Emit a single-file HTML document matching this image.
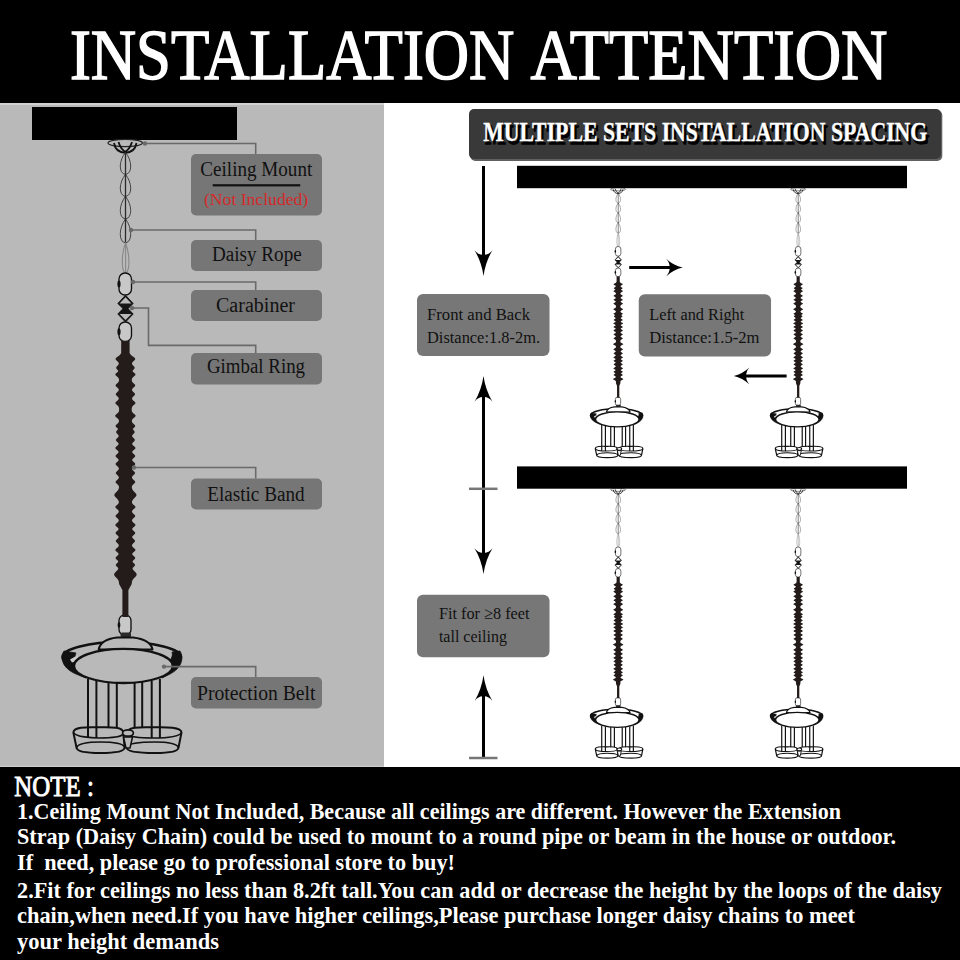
<!DOCTYPE html>
<html><head><meta charset="utf-8">
<style>
html,body{margin:0;padding:0;width:960px;height:960px;overflow:hidden;background:#fff;}
svg{display:block;}
text{font-family:"Liberation Serif",serif;}
</style></head>
<body>
<svg width="960" height="960" viewBox="0 0 960 960">
<defs>
<g id="lamp">
  <!-- rosette -->
  <ellipse cx="125.2" cy="143" rx="17.2" ry="3.6" fill="none" stroke="#222" stroke-width="1.2"/>
  <g fill="none" stroke="#111" stroke-width="1.8">
    <path d="M114,143 C115,149 119,152.5 125.3,152.8 C131.5,152.5 135.5,149 136.5,143"/>
    <path d="M118.5,142 C120,147 123,151 126.5,152.5 M132,142 C130.5,147 127.5,151 124,152.5"/>
  </g>
  <!-- chain loops -->
  <path fill="none" stroke="#444" stroke-width="1.0" d="M125.5,152.5 C132.1,160.2 132.8,173.4 125.5,174.5 C118.2,173.4 118.9,160.2 125.5,152.5Z M125.5,174.5 C132.1,182.2 132.8,195.4 125.5,196.5 C118.2,195.4 118.9,182.2 125.5,174.5Z M125.5,196.5 C132.1,204.4 132.8,217.9 125.5,219 C118.2,217.9 118.9,204.4 125.5,196.5Z M125.5,219 C132.1,227.4 132.8,241.8 125.5,243 C118.2,241.8 118.9,227.4 125.5,219Z"/>
  <path fill="none" stroke="#2a2a2a" stroke-width="1.3" d="M125.5,152.5 L125.5,243"/>
  <g fill="none" stroke="#888" stroke-width="1.1">
    <path d="M125.6,243 C129.8,253.5 130.2,271.5 125.6,273 C121.0,271.5 121.4,253.5 125.6,243Z"/>
    <path d="M125.6,244 L125.6,272"/>
  </g>
  <!-- carabiners -->
  <g stroke="#111" stroke-width="1.35" style="fill:var(--bg2)">
    <rect x="119" y="273" width="12.5" height="22" rx="6"/>
    <rect x="119" y="322" width="12.5" height="19.5" rx="6"/>
    <rect x="119" y="615" width="12" height="20" rx="5.5"/>
  </g>
  <g fill="#111">
    <ellipse cx="119" cy="284" rx="1.6" ry="3.5"/>
    <ellipse cx="119" cy="331.7" rx="1.6" ry="3.5"/>
    <ellipse cx="119" cy="625" rx="1.4" ry="3"/>
  </g>
  <!-- gimbal -->
  <path d="M125.5,295.2 L133.2,303.5 L125.5,311 L117.8,303.5 Z M125.5,306 L133.2,314 L125.5,322 L117.8,314 Z" fill="#161616" stroke="#111" stroke-width="0.9" stroke-linejoin="round"/>
  <path d="M125.5,297.3 L131.4,303.6 L119.6,303.6 Z M119.6,313.9 L131.4,313.9 L125.5,320.1 Z" style="fill:var(--bg)"/>
  <!-- elastic -->
  <path fill="#241b1b" style="opacity:var(--ob)" d="M121.2 341L121.2 342L121.2 343L121.2 344L121.2 345L121.2 346L121.2 347L121.2 348L121.2 349L121.2 350L121.2 351L121.2 352L121.2 353L120.6 354L119.8 355L118.7 356L117.1 357L116.0 358L115.5 359L116.0 360L117.1 361L118.1 362L118.8 363L118.7 364L118.2 365L117.2 366L116.4 367L116.1 368L116.7 369L117.6 370L118.4 371L117.6 372L116.4 373L115.4 374L115.4 375L116.4 376L117.6 377L118.5 378L118.9 379L119.1 380L118.9 381L118.4 382L117.6 383L116.4 384L115.6 385L115.7 386L116.6 387L117.8 388L118.6 389L118.8 390L118.4 391L117.4 392L116.4 393L115.7 394L116.0 395L117.0 396L118.0 397L118.7 398L118.7 399L118.1 400L117.0 401L115.8 402L115.3 403L115.8 404L117.0 405L118.1 406L118.7 407L119.0 408L119.1 409L119.1 410L119.0 411L118.6 412L117.8 413L116.6 414L115.5 415L115.1 416L115.9 417L117.1 418L118.2 419L118.8 420L119.0 421L118.8 422L118.1 423L117.1 424L116.0 425L115.5 426L116.0 427L117.1 428L118.1 429L117.4 430L116.5 431L116.1 432L116.5 433L117.4 434L118.3 435L118.8 436L118.3 437L117.3 438L116.3 439L115.9 440L116.3 441L117.3 442L118.3 443L118.7 444L118.1 445L117.0 446L115.8 447L115.3 448L115.8 449L117.0 450L118.1 451L118.7 452L118.1 453L117.1 454L116.0 455L115.5 456L116.0 457L117.1 458L118.1 459L118.8 460L118.1 461L117.1 462L116.0 463L115.5 464L116.0 465L117.1 466L118.1 467L118.8 468L118.8 469L118.2 470L117.2 471L116.2 472L115.7 473L116.2 474L117.2 475L118.2 476L118.8 477L118.8 478L118.1 479L117.1 480L116.0 481L115.5 482L116.0 483L117.1 484L118.1 485L118.8 486L119.0 487L118.9 488L118.6 489L118.1 490L117.3 491L116.4 492L115.4 493L114.6 494L114.3 495L114.6 496L115.4 497L116.4 498L117.3 499L118.1 500L118.6 501L118.9 502L118.7 503L118.1 504L117.0 505L115.8 506L115.3 507L115.8 508L117.0 509L118.1 510L118.7 511L118.8 512L118.1 513L117.1 514L116.0 515L115.5 516L116.0 517L117.1 518L118.1 519L118.8 520L118.7 521L118.1 522L117.0 523L115.8 524L115.3 525L115.8 526L117.0 527L118.1 528L118.7 529L118.1 530L117.1 531L116.0 532L115.5 533L116.0 534L117.1 535L118.1 536L118.8 537L118.2 538L117.2 539L116.2 540L115.7 541L116.2 542L117.2 543L118.2 544L118.8 545L118.7 546L118.1 547L117.0 548L115.8 549L115.3 550L115.8 551L117.0 552L118.1 553L118.7 554L118.1 555L117.1 556L116.0 557L115.5 558L116.0 559L117.1 560L118.1 561L118.2 562L117.2 563L116.2 564L115.7 565L116.2 566L117.2 567L118.2 568L118.2 569L117.5 570L116.6 571L115.6 572L114.7 573L114.2 574L114.2 575L114.7 576L115.6 577L116.6 578L117.5 579L118.2 580L118.6 581L118.9 582L119.0 583L119.1 584L119.6 585L120.2 586L120.7 587L121.3 588L121.8 589L122.4 590L122.4 591L122.4 592L122.4 593L122.4 594L122.4 595L122.4 596L122.4 597L122.4 598L122.4 599L122.4 600L122.4 601L122.4 602L122.4 603L122.4 604L122.4 605L122.4 606L122.4 607L122.4 608L122.4 609L122.4 610L122.4 611L122.4 612L122.4 613L122.4 614L122.4 615L122.4 616L122.4 617L128.4 617L128.4 616L128.4 615L128.4 614L128.4 613L128.4 612L128.4 611L128.4 610L128.4 609L128.4 608L128.4 607L128.4 606L128.4 605L128.4 604L128.4 603L128.4 602L128.4 601L128.4 600L128.4 599L128.4 598L128.4 597L128.4 596L128.4 595L128.4 594L128.4 593L128.4 592L128.4 591L128.4 590L129.0 589L129.5 588L130.1 587L130.6 586L131.2 585L131.7 584L131.8 583L131.9 582L132.2 581L132.6 580L133.3 579L134.2 578L135.2 577L136.1 576L136.6 575L136.6 574L136.1 573L135.2 572L134.2 571L133.3 570L132.6 569L132.6 568L133.6 567L134.6 566L135.1 565L134.6 564L133.6 563L132.6 562L132.7 561L133.7 560L134.8 559L135.3 558L134.8 557L133.7 556L132.7 555L132.1 554L132.7 553L133.8 552L135.0 551L135.5 550L135.0 549L133.8 548L132.7 547L132.1 546L132.0 545L132.6 544L133.6 543L134.6 542L135.1 541L134.6 540L133.6 539L132.6 538L132.0 537L132.7 536L133.7 535L134.8 534L135.3 533L134.8 532L133.7 531L132.7 530L132.1 529L132.7 528L133.8 527L135.0 526L135.5 525L135.0 524L133.8 523L132.7 522L132.1 521L132.0 520L132.7 519L133.7 518L134.8 517L135.3 516L134.8 515L133.7 514L132.7 513L132.0 512L132.1 511L132.7 510L133.8 509L135.0 508L135.5 507L135.0 506L133.8 505L132.7 504L132.1 503L131.9 502L132.2 501L132.7 500L133.5 499L134.4 498L135.4 497L136.2 496L136.5 495L136.2 494L135.4 493L134.4 492L133.5 491L132.7 490L132.2 489L131.9 488L131.8 487L132.0 486L132.7 485L133.7 484L134.8 483L135.3 482L134.8 481L133.7 480L132.7 479L132.0 478L132.0 477L132.6 476L133.6 475L134.6 474L135.1 473L134.6 472L133.6 471L132.6 470L132.0 469L132.0 468L132.7 467L133.7 466L134.8 465L135.3 464L134.8 463L133.7 462L132.7 461L132.0 460L132.7 459L133.7 458L134.8 457L135.3 456L134.8 455L133.7 454L132.7 453L132.1 452L132.7 451L133.8 450L135.0 449L135.5 448L135.0 447L133.8 446L132.7 445L132.1 444L132.5 443L133.5 442L134.5 441L134.9 440L134.5 439L133.5 438L132.5 437L132.0 436L132.5 435L133.4 434L134.3 433L134.7 432L134.3 431L133.4 430L132.7 429L133.7 428L134.8 427L135.3 426L134.8 425L133.7 424L132.7 423L132.0 422L131.8 421L132.0 420L132.6 419L133.7 418L134.9 417L135.7 416L135.3 415L134.2 414L133.0 413L132.2 412L131.8 411L131.7 410L131.7 409L131.8 408L132.1 407L132.7 406L133.8 405L135.0 404L135.5 403L135.0 402L133.8 401L132.7 400L132.1 399L132.1 398L132.8 397L133.8 396L134.8 395L135.1 394L134.4 393L133.4 392L132.4 391L132.0 390L132.2 389L133.0 388L134.2 387L135.1 386L135.2 385L134.4 384L133.2 383L132.4 382L131.9 381L131.7 380L131.9 379L132.3 378L133.2 377L134.4 376L135.4 375L135.4 374L134.4 373L133.2 372L132.4 371L133.2 370L134.1 369L134.7 368L134.4 367L133.6 366L132.6 365L132.1 364L132.0 363L132.7 362L133.7 361L134.8 360L135.3 359L134.8 358L133.7 357L132.1 356L131.0 355L130.2 354L129.6 353L129.6 352L129.6 351L129.6 350L129.6 349L129.6 348L129.6 347L129.6 346L129.6 345L129.6 344L129.6 343L129.6 342L129.6 341Z"/>
  <path fill="#241b1b" style="opacity:var(--os)" d="M121.8 341L121.8 342L121.8 343L121.8 344L121.8 345L121.8 346L121.8 347L121.8 348L121.8 349L121.8 350L121.8 351L121.8 352L121.8 353L121.3 354L120.6 355L119.3 356L117.4 357L115.7 358L114.9 359L115.7 360L117.4 361L118.9 362L119.9 363L119.8 364L118.8 365L117.3 366L115.9 367L115.4 368L116.4 369L118.0 370L119.3 371L118.0 372L116.1 373L114.6 374L114.6 375L116.1 376L118.0 377L119.4 378L120.1 379L120.3 380L120.1 381L119.4 382L118.0 383L116.2 384L114.9 385L115.1 386L116.6 387L118.3 388L119.6 389L120.0 390L119.2 391L117.8 392L116.0 393L115.0 394L115.5 395L117.1 396L118.7 397L119.8 398L119.8 399L118.8 400L117.1 401L115.2 402L114.4 403L115.2 404L117.1 405L118.8 406L119.8 407L120.3 408L120.4 409L120.4 410L120.2 411L119.7 412L118.5 413L116.6 414L114.8 415L114.2 416L115.4 417L117.4 418L119.0 419L119.9 420L120.3 421L119.9 422L118.9 423L117.3 424L115.6 425L114.8 426L115.6 427L117.3 428L118.9 429L117.6 430L116.1 431L115.4 432L116.1 433L117.6 434L119.1 435L119.9 436L119.0 437L117.5 438L115.9 439L115.2 440L115.9 441L117.5 442L119.0 443L119.8 444L118.8 445L117.1 446L115.2 447L114.4 448L115.2 449L117.1 450L118.8 451L119.8 452L118.9 453L117.3 454L115.6 455L114.8 456L115.6 457L117.3 458L118.9 459L119.9 460L118.9 461L117.3 462L115.6 463L114.8 464L115.6 465L117.3 466L118.9 467L119.9 468L119.9 469L119.0 470L117.4 471L115.7 472L115.0 473L115.7 474L117.4 475L119.0 476L119.9 477L119.9 478L118.9 479L117.3 480L115.6 481L114.8 482L115.6 483L117.3 484L118.9 485L119.9 486L120.3 487L120.4 488L120.4 489L120.2 490L119.8 491L118.6 492L116.6 493L114.5 494L113.6 495L114.5 496L116.6 497L118.6 498L119.8 499L120.2 500L120.4 501L120.3 502L119.8 503L118.8 504L117.1 505L115.2 506L114.4 507L115.2 508L117.1 509L118.8 510L119.8 511L119.9 512L118.9 513L117.3 514L115.6 515L114.8 516L115.6 517L117.3 518L118.9 519L119.9 520L119.8 521L118.8 522L117.1 523L115.2 524L114.4 525L115.2 526L117.1 527L118.8 528L119.8 529L118.9 530L117.3 531L115.6 532L114.8 533L115.6 534L117.3 535L118.9 536L119.9 537L119.0 538L117.4 539L115.7 540L115.0 541L115.7 542L117.4 543L119.0 544L119.9 545L119.8 546L118.8 547L117.1 548L115.2 549L114.4 550L115.2 551L117.1 552L118.8 553L119.8 554L118.9 555L117.3 556L115.6 557L114.8 558L115.6 559L117.3 560L118.9 561L119.0 562L117.4 563L115.7 564L115.0 565L115.7 566L117.4 567L119.0 568L119.9 569L120.0 570L119.3 571L117.6 572L115.4 573L113.7 574L113.7 575L115.4 576L117.6 577L119.3 578L120.0 579L120.3 580L120.4 581L120.4 582L120.4 583L120.4 584L120.8 585L121.2 586L121.6 587L122.0 588L122.4 589L122.8 590L122.8 591L122.8 592L122.8 593L122.8 594L122.8 595L122.8 596L122.8 597L122.8 598L122.8 599L122.8 600L122.8 601L122.8 602L122.8 603L122.8 604L122.8 605L122.8 606L122.8 607L122.8 608L122.8 609L122.8 610L122.8 611L122.8 612L122.8 613L122.8 614L122.8 615L122.8 616L122.8 617L128.0 617L128.0 616L128.0 615L128.0 614L128.0 613L128.0 612L128.0 611L128.0 610L128.0 609L128.0 608L128.0 607L128.0 606L128.0 605L128.0 604L128.0 603L128.0 602L128.0 601L128.0 600L128.0 599L128.0 598L128.0 597L128.0 596L128.0 595L128.0 594L128.0 593L128.0 592L128.0 591L128.0 590L128.4 589L128.8 588L129.2 587L129.6 586L130.0 585L130.4 584L130.4 583L130.4 582L130.4 581L130.5 580L130.8 579L131.5 578L133.2 577L135.4 576L137.1 575L137.1 574L135.4 573L133.2 572L131.5 571L130.8 570L130.9 569L131.8 568L133.4 567L135.1 566L135.8 565L135.1 564L133.4 563L131.8 562L131.9 561L133.5 560L135.2 559L136.0 558L135.2 557L133.5 556L131.9 555L131.0 554L132.0 553L133.7 552L135.6 551L136.4 550L135.6 549L133.7 548L132.0 547L131.0 546L130.9 545L131.8 544L133.4 543L135.1 542L135.8 541L135.1 540L133.4 539L131.8 538L130.9 537L131.9 536L133.5 535L135.2 534L136.0 533L135.2 532L133.5 531L131.9 530L131.0 529L132.0 528L133.7 527L135.6 526L136.4 525L135.6 524L133.7 523L132.0 522L131.0 521L130.9 520L131.9 519L133.5 518L135.2 517L136.0 516L135.2 515L133.5 514L131.9 513L130.9 512L131.0 511L132.0 510L133.7 509L135.6 508L136.4 507L135.6 506L133.7 505L132.0 504L131.0 503L130.5 502L130.4 501L130.6 500L131.0 499L132.2 498L134.2 497L136.3 496L137.2 495L136.3 494L134.2 493L132.2 492L131.0 491L130.6 490L130.4 489L130.4 488L130.5 487L130.9 486L131.9 485L133.5 484L135.2 483L136.0 482L135.2 481L133.5 480L131.9 479L130.9 478L130.9 477L131.8 476L133.4 475L135.1 474L135.8 473L135.1 472L133.4 471L131.8 470L130.9 469L130.9 468L131.9 467L133.5 466L135.2 465L136.0 464L135.2 463L133.5 462L131.9 461L130.9 460L131.9 459L133.5 458L135.2 457L136.0 456L135.2 455L133.5 454L131.9 453L131.0 452L132.0 451L133.7 450L135.6 449L136.4 448L135.6 447L133.7 446L132.0 445L131.0 444L131.8 443L133.3 442L134.9 441L135.6 440L134.9 439L133.3 438L131.8 437L130.9 436L131.7 435L133.2 434L134.7 433L135.4 432L134.7 431L133.2 430L131.9 429L133.5 428L135.2 427L136.0 426L135.2 425L133.5 424L131.9 423L130.9 422L130.5 421L130.9 420L131.8 419L133.4 418L135.4 417L136.6 416L136.0 415L134.2 414L132.3 413L131.1 412L130.6 411L130.4 410L130.4 409L130.5 408L131.0 407L132.0 406L133.7 405L135.6 404L136.4 403L135.6 402L133.7 401L132.0 400L131.0 399L131.0 398L132.1 397L133.7 396L135.3 395L135.8 394L134.8 393L133.0 392L131.6 391L130.8 390L131.2 389L132.5 388L134.2 387L135.7 386L135.9 385L134.6 384L132.8 383L131.4 382L130.7 381L130.5 380L130.7 379L131.4 378L132.8 377L134.7 376L136.2 375L136.2 374L134.7 373L132.8 372L131.5 371L132.8 370L134.4 369L135.4 368L134.9 367L133.5 366L132.0 365L131.0 364L130.9 363L131.9 362L133.4 361L135.1 360L135.9 359L135.1 358L133.4 357L131.5 356L130.2 355L129.5 354L129.0 353L129.0 352L129.0 351L129.0 350L129.0 349L129.0 348L129.0 347L129.0 346L129.0 345L129.0 344L129.0 343L129.0 342L129.0 341Z"/>
  <!-- chandelier -->
  <g stroke="#111" stroke-linejoin="round">
    <rect x="120.5" y="632.5" width="10.5" height="5" rx="1.5" fill="#2a2a2a" stroke="none"/>
    <ellipse cx="121.7" cy="657" rx="59.2" ry="15" style="stroke-width:calc(var(--k) * 2.6px);fill:var(--bg)"/>
    <path d="M98.7,649.5 C100,642.5 107,638.8 117,637.6 L133,637.6 C143,638.8 151,642.5 152.5,649.5 Z" style="stroke-width:calc(var(--k) * 2.0px);fill:var(--bg)"/>
    <path d="M64,651 C60,658 62,668 76,674 L86,678 L80,664 C76,660 74,656 76,653 Z" fill="#111" stroke-width="0.8"/>
    <path d="M180,651 C184,658 182,668 170,674 L162,678 L168,662 C172,659 173,655 172,652 Z" fill="#111" stroke-width="0.8"/>
    <path d="M70,659.5 L77,655.5 L79,660 L72,662.5 Z" fill="#ccc" stroke="none"/>
    <ellipse cx="123.4" cy="665.9" rx="49.4" ry="17.1" style="stroke-width:calc(var(--k) * 2.3px);fill:var(--bg)"/>
    <g style="stroke-width:calc(var(--k) * 2.0px);fill:var(--bg)">
      <path d="M73.4,732.6 C73.4,726 90,727.2 98.5,727.2 C107,727.2 123.3,726 123.3,732.6 L124.6,747.5 C124.6,753 106,753 100.5,753 C95,753 76.5,753 76.5,747.5 Z"/>
      <path d="M127.5,732.6 C127.5,726 144,727.2 153,727.2 C161,727.2 181.5,726 181.5,732.6 L178.5,747.5 C178.5,753 161,753 155,753 C149,753 126.5,753 126.5,747.5 Z"/>
    </g>
    <g style="stroke-width:calc(var(--k) * 2.0px)" fill="none">
      <line x1="88" y1="679" x2="88" y2="738"/>
      <line x1="96.4" y1="681" x2="96.4" y2="738"/>
      <line x1="108.5" y1="682" x2="108.5" y2="728"/>
      <line x1="116.8" y1="682.5" x2="116.8" y2="728"/>
      <line x1="134.6" y1="682.5" x2="134.6" y2="728"/>
      <line x1="142.2" y1="682" x2="142.2" y2="728"/>
      <line x1="151.7" y1="681" x2="151.7" y2="738"/>
      <line x1="159.9" y1="679" x2="159.9" y2="738"/>
    </g>
    <g style="stroke-width:calc(var(--k) * 1.7px)" fill="none">
      <path d="M73.4,732.6 C76,737 92,738 98.5,738 C108,738 121,737.5 123.3,734"/>
      <path d="M127.5,734 C130,737.5 144,738 153,738 C164,738 179,737 181.5,732.6"/>
      <path d="M76.5,747.5 C79,742.5 94,742 100.5,742 C108,742 122,742.5 124.6,747"/>
      <path d="M126.5,747 C129,742.5 144,742 155,742 C164,742 176,742.5 178.5,747.5"/>
    </g>
    <path d="M123.5,737 L126,748 L130,748 L132.5,737 Z" style="stroke-width:calc(var(--k) * 1.5px);fill:var(--bg)"/>
    <ellipse cx="128" cy="733" rx="5.4" ry="3.2" style="stroke-width:calc(var(--k) * 1.7px);fill:var(--bg)"/>
  </g>
</g>
</defs>
<!-- backgrounds -->
<rect x="0" y="0" width="960" height="960" fill="#ffffff"/>
<rect x="0" y="103" width="384" height="664" fill="#b9b9b9"/>
<rect x="0" y="103" width="384" height="2" fill="#cfcfcf"/>
<rect x="0" y="765.8" width="384" height="1.2" fill="#cccccc"/>
<rect x="0" y="0" width="960" height="103" fill="#000"/>
<rect x="0" y="767" width="960" height="193" fill="#000"/>

<!-- title -->
<g fill="#fff" stroke="#fff" stroke-width="1.5" font-size="72.8">
<text x="69.9" y="79.3" textLength="444.5" lengthAdjust="spacingAndGlyphs">INSTALLATION</text>
<text x="530.5" y="79.3" textLength="357" lengthAdjust="spacingAndGlyphs">ATTENTION</text>
</g>

<!-- left panel -->
<rect x="32" y="107" width="205" height="33" fill="#000"/>

<g fill="#767676">
  <rect x="191" y="154" width="131" height="61.5" rx="5"/>
  <rect x="191" y="240" width="131" height="31" rx="5"/>
  <rect x="191" y="290" width="131" height="31" rx="5"/>
  <rect x="191" y="353" width="131" height="31.5" rx="5"/>
  <rect x="191" y="478.5" width="131" height="31" rx="5"/>
  <rect x="191" y="677" width="131" height="31.5" rx="5"/>
</g>
<g fill="#111" font-size="20">
  <text x="200.3" y="176" textLength="112" lengthAdjust="spacingAndGlyphs">Ceiling Mount</text>
  <text x="212" y="260.5" textLength="89.7" lengthAdjust="spacingAndGlyphs">Daisy Rope</text>
  <text x="216" y="312.3" textLength="79" lengthAdjust="spacingAndGlyphs">Carabiner</text>
  <text x="207" y="373.2" textLength="98" lengthAdjust="spacingAndGlyphs">Gimbal Ring</text>
  <text x="207.2" y="500.9" textLength="97.4" lengthAdjust="spacingAndGlyphs">Elastic Band</text>
  <text x="197" y="699.7" textLength="118.5" lengthAdjust="spacingAndGlyphs">Protection Belt</text>
</g>
<rect x="212.7" y="184.2" width="87.5" height="2.2" fill="#111"/>
<text x="204" y="205.4" font-size="17.7" fill="#d42a2a" textLength="104.2" lengthAdjust="spacingAndGlyphs">(Not Included)</text>

<use href="#lamp" style="--bg:#b9b9b9;--bg2:#c8c8c8;--ob:1;--os:0;--k:1"/>
<g fill="none" stroke="#6a6a6a" stroke-width="1.6">
  <polyline points="143,143.5 255.7,143.5 255.7,154"/>
  <polyline points="130,230 255.7,230 255.7,240"/>
  <polyline points="131,282 255.7,282 255.7,290"/>
  <polyline points="131,308 148.5,308 148.5,345.4 255.7,345.4 255.7,353"/>
  <polyline points="133,467.5 255.7,467.5 255.7,478.5"/>
  <polyline points="165,666.6 255.7,666.6 255.7,677"/>
</g>
<g fill="#6a6a6a">
  <circle cx="145" cy="143.5" r="2.2"/>
  <circle cx="131" cy="230" r="2.2"/>
  <circle cx="133" cy="282" r="2.2"/>
  <circle cx="132" cy="308" r="2.2"/>
  <circle cx="134" cy="467.5" r="2.2"/>
  <circle cx="164" cy="666.6" r="2.2"/>
</g>

<use href="#lamp" style="--bg:#ffffff;--bg2:#ffffff;--ob:0;--os:1;--k:1.35" transform="translate(618,187.5) scale(0.44) translate(-125,-139)"/>
<use href="#lamp" style="--bg:#ffffff;--bg2:#ffffff;--ob:0;--os:1;--k:1.35" transform="translate(798,187.5) scale(0.44) translate(-125,-139)"/>
<use href="#lamp" style="--bg:#ffffff;--bg2:#ffffff;--ob:0;--os:1;--k:1.35" transform="translate(618,488) scale(0.44) translate(-125,-139)"/>
<use href="#lamp" style="--bg:#ffffff;--bg2:#ffffff;--ob:0;--os:1;--k:1.35" transform="translate(798,488) scale(0.44) translate(-125,-139)"/>

<!-- right panel -->
<rect x="470.3" y="110.3" width="472" height="50.6" rx="5" fill="#606060"/>
<rect x="469" y="109" width="472" height="50" rx="5" fill="#393939"/>
<text x="485.3" y="144" font-size="27.5" font-weight="bold" fill="#000" stroke="#000" stroke-width="1.4" textLength="444" lengthAdjust="spacingAndGlyphs">MULTIPLE SETS INSTALLATION SPACING</text>
<text x="483.3" y="141.2" font-size="27.5" font-weight="bold" fill="#fff" stroke="#fff" stroke-width="0.35" textLength="444" lengthAdjust="spacingAndGlyphs">MULTIPLE SETS INSTALLATION SPACING</text>

<rect x="517" y="165.8" width="390" height="22.4" fill="#000"/>
<rect x="517" y="466.4" width="390" height="22.3" fill="#000"/>

<!-- arrows -->
<g stroke="#000" stroke-width="3" fill="none">
  <line x1="483.5" y1="166" x2="483.5" y2="258"/>
  <line x1="483.5" y1="394" x2="483.5" y2="556"/>
  <line x1="483.5" y1="693" x2="483.5" y2="758"/>
  <line x1="629.2" y1="267.6" x2="672" y2="267.6"/>
  <line x1="744" y1="375.9" x2="786.6" y2="375.9"/>
</g>
<g stroke="#777" stroke-width="2.5">
  <line x1="469" y1="488.8" x2="497.5" y2="488.8"/>
  <line x1="469" y1="758" x2="497.5" y2="758"/>
</g>
<g fill="#000">
  <path d="M483.50,275.90 Q481.52,261.76 474.50,250.20 Q478.55,255.26 483.50,254.80 Q488.45,255.26 492.50,250.20 Q485.48,261.76 483.50,275.90Z"/>
  <path d="M483.50,376.00 Q485.48,390.13 492.50,401.70 Q488.45,396.64 483.50,397.10 Q478.55,396.64 474.50,401.70 Q481.52,390.13 483.50,376.00Z"/>
  <path d="M483.50,574.00 Q481.52,559.87 474.50,548.30 Q478.55,553.36 483.50,552.90 Q488.45,553.36 492.50,548.30 Q485.48,559.87 483.50,574.00Z"/>
  <path d="M483.50,675.20 Q485.46,689.34 492.40,700.90 Q488.39,695.84 483.50,696.30 Q478.61,695.84 474.60,700.90 Q481.54,689.34 483.50,675.20Z"/>
  <path d="M682.70,267.60 Q673.57,269.55 666.10,276.45 Q669.95,272.47 669.60,267.60 Q669.95,262.73 666.10,258.75 Q673.57,265.65 682.70,267.60Z"/>
  <path d="M733.80,375.90 Q742.38,374.05 749.40,367.50 Q745.88,371.28 746.20,375.90 Q745.88,380.52 749.40,384.30 Q742.38,377.75 733.80,375.90Z"/>
</g>

<g fill="#777">
  <rect x="417" y="294" width="132.5" height="62" rx="6"/>
  <rect x="638.75" y="294.2" width="132.3" height="62.4" rx="6"/>
  <rect x="417" y="594.7" width="132.5" height="62.5" rx="6"/>
</g>
<g fill="#111" font-size="17.2">
  <text x="427" y="320" textLength="103" lengthAdjust="spacingAndGlyphs">Front and Back</text>
  <text x="427" y="343" textLength="113" lengthAdjust="spacingAndGlyphs">Distance:1.8-2m.</text>
  <text x="649.25" y="319.8" textLength="95" lengthAdjust="spacingAndGlyphs">Left and Right</text>
  <text x="649.25" y="342.8" textLength="110.25" lengthAdjust="spacingAndGlyphs">Distance:1.5-2m</text>
  <text x="438.9" y="619.4" textLength="90.6" lengthAdjust="spacingAndGlyphs">Fit for ≥8 feet</text>
  <text x="438.9" y="642" textLength="68" lengthAdjust="spacingAndGlyphs">tall ceiling</text>
</g>

<!-- notes -->
<text x="14.3" y="795.8" font-size="28.5" fill="#fff" stroke="#fff" stroke-width="0.9" textLength="79.5" lengthAdjust="spacingAndGlyphs">NOTE :</text>
<g fill="#fff" font-size="23.5" font-weight="bold">
  <text x="17" y="819.2" textLength="824" lengthAdjust="spacingAndGlyphs">1.Ceiling Mount Not Included, Because all ceilings are different. However the Extension</text>
  <text x="17" y="844" textLength="879" lengthAdjust="spacingAndGlyphs">Strap (Daisy Chain) could be used to mount to a round pipe or beam in the house or outdoor.</text>
  <text x="17" y="869.5" textLength="438" lengthAdjust="spacingAndGlyphs" xml:space="preserve">If  need, please go to professional store to buy!</text>
  <text x="17" y="898.1" textLength="925" lengthAdjust="spacingAndGlyphs">2.Fit for ceilings no less than 8.2ft tall.You can add or decrease the height by the loops of the daisy</text>
  <text x="17" y="923.3" textLength="838" lengthAdjust="spacingAndGlyphs">chain,when need.If you have higher ceilings,Please purchase longer daisy chains to meet</text>
  <text x="17" y="948.5" textLength="202" lengthAdjust="spacingAndGlyphs">your height demands</text>
</g>

</svg>
</body></html>
